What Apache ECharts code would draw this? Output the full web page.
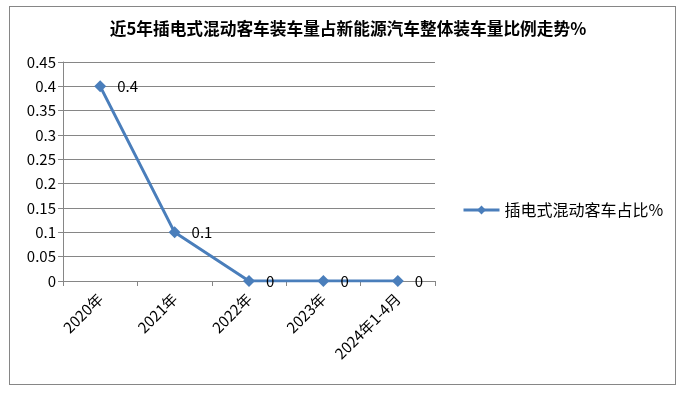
<!DOCTYPE html>
<html>
<head>
<meta charset="utf-8">
<script src="https://cdn.jsdelivr.net/npm/echarts@6/dist/echarts.min.js"></script>
<style>
  html, body { margin: 0; padding: 0; background: #fff; }
  #chart { width: 686px; height: 397px; }
  .frame { position: absolute; left: 9px; top: 6px; width: 667px; height: 379px; border: 1px solid #868686; box-sizing: border-box; pointer-events: none; }
</style>
</head>
<body>
<div id="chart"></div>
<div class="frame"></div>
<script>
// 数据
const categories = ["2020年", "2021年", "2022年", "2023年", "2024年1-4月"];
const ratioData = [0.4, 0.1, 0, 0, 0];
const seriesName = "插电式混动客车占比%";
const titleText = "近5年插电式混动客车装车量占新能源汽车整体装车量比例走势%";

const myChart = echarts.init(document.getElementById("chart"));
const font = "'Noto Sans CJK SC', 'Liberation Sans', sans-serif";
const blue = "#4A7EBB";

const option = {
  animation: false,
  textStyle: { fontFamily: font },
  title: {
    text: titleText,
    left: 343,
    top: 15,
    textAlign: "center",
    textStyle: { fontSize: 16.7, fontWeight: "bold", color: "#000", fontFamily: font }
  },
  legend: {
    data: [seriesName],
    left: 457,
    top: 197,
    itemWidth: 36,
    itemHeight: 11,
    itemGap: 0,
    lineStyle: { width: 3, color: blue },
    itemStyle: { color: blue },
    textStyle: { fontSize: 16, color: "#000", fontFamily: font, padding: [0, 0, 0, 0] }
  },
  grid: { left: 63, right: 251, top: 62, bottom: 116 },
  xAxis: {
    type: "category",
    data: categories,
    boundaryGap: true,
    axisLine: { lineStyle: { color: "#868686", width: 1 } },
    axisTick: { show: true, length: 5, alignWithLabel: false, lineStyle: { color: "#868686" } },
    axisLabel: { rotate: 45, fontSize: 15, color: "#000", margin: 15, interval: 0 }
  },
  yAxis: {
    type: "value",
    min: 0,
    max: 0.45,
    interval: 0.05,
    axisLine: { show: true, lineStyle: { color: "#868686", width: 1 } },
    axisTick: { show: true, length: 5, lineStyle: { color: "#868686" } },
    splitLine: { lineStyle: { color: "#868686", width: 1 } },
    axisLabel: {
      fontSize: 15,
      color: "#000",
      margin: 7,
      formatter: v => String(+v.toFixed(2))
    }
  },
  series: [{
    name: seriesName,
    type: "line",
    data: ratioData,
    symbol: "diamond",
    symbolSize: 12,
    lineStyle: { color: blue, width: 3 },
    itemStyle: { color: blue },
    label: {
      show: true,
      position: "right",
      distance: 11,
      fontSize: 15,
      color: "#000"
    }
  }]
};

myChart.setOption(option);
</script>
</body>
</html>
